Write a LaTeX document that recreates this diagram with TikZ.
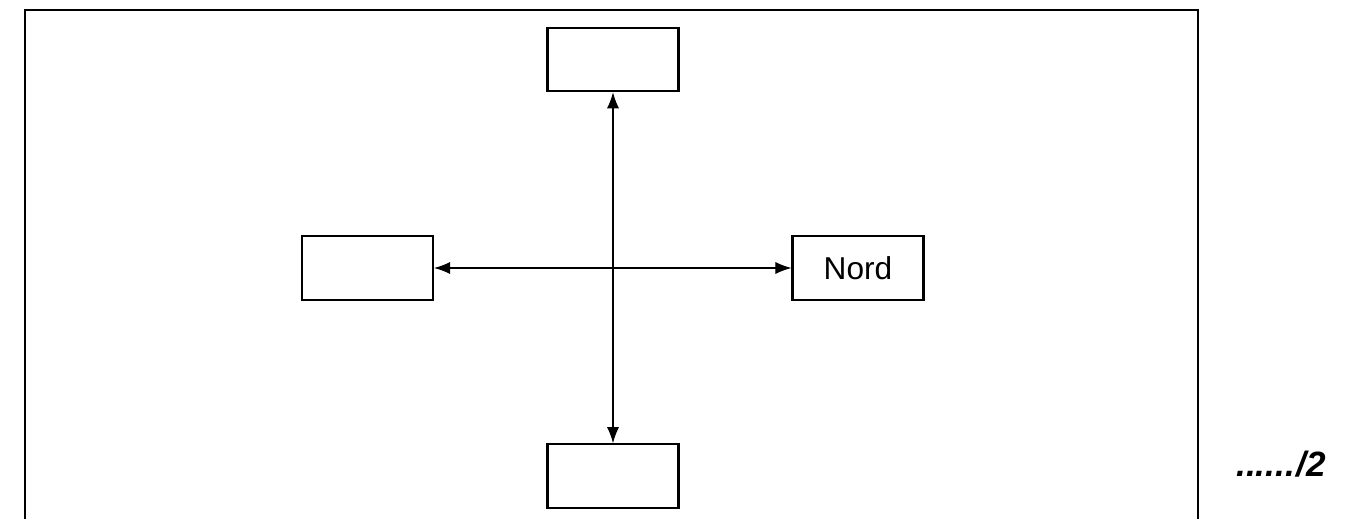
\documentclass[tikz,border=0pt]{standalone}
\usepackage{fontspec}
\setmainfont{Liberation Sans}
\usepackage{tikz}
\usetikzlibrary{arrows.meta}

\begin{document}
\begin{tikzpicture}[x=0.02cm, y=-0.02cm,
		box/.style={draw, line width=1.2pt, minimum width=2.62cm, minimum height=1.27cm, inner sep=0pt, font=\fontsize{18}{21}\selectfont},
		link/.style={line width=0.6pt, {Latex[length=0.32cm,width=0.24cm]}-{Latex[length=0.32cm,width=0.24cm]}}]
		\useasboundingbox (0,0) rectangle (1366,519);
		% outer frame
		\draw[line width=1.3pt] (25,519) -- (25,10) -- (1198,10) -- (1198,519);
		% boxes
		\node[box] (haut) at (613,59.5) {};
		\node[box] (bas) at (613,476) {};
		\node[box] (gauche) at (367.5,268) {};
		\node[box] (nord) at (858,268) {Nord};
		% arrows
		\draw[link] (haut) -- (bas);
		\draw[link] (gauche) -- (nord);
		% mark
		\node[font=\fontsize{20}{24}\selectfont\bfseries\itshape, anchor=west, inner sep=0pt] (note) at (1236,464) {......\kern1pt/2};
	\end{tikzpicture}
\end{document}
